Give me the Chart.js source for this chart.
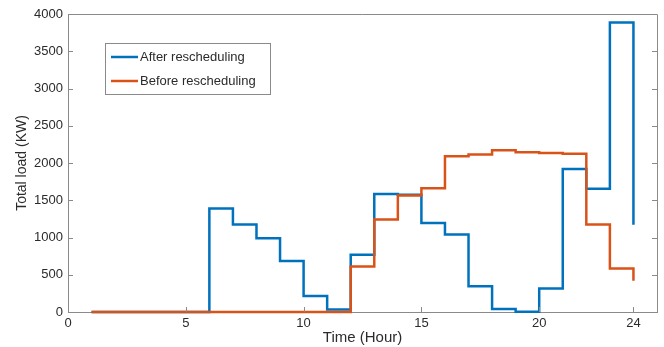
<!DOCTYPE html>
<html>
<head>
<meta charset="utf-8">
<script src="https://cdn.jsdelivr.net/npm/chart.js@4"></script>
<style>
  html, body { margin: 0; padding: 0; background: #fff; }
  #wrap { position: relative; width: 664px; height: 347px; }
</style>
</head>
<body>
<div id="wrap"><canvas id="c" width="664" height="347"></canvas></div>
<script>
// ---- data ----
const hours = [1,2,3,4,5,6,7,8,9,10,11,12,13,14,15,16,17,18,19,20,21,22,23,24];
const afterRescheduling  = [0,0,0,0,0,1390,1175,990,685,215,35,770,1585,1575,1195,1040,345,40,5,315,1920,1655,3885,1170];
const beforeRescheduling = [0,0,0,0,0,0,0,0,0,0,0,610,1240,1565,1660,2090,2115,2170,2145,2135,2125,1175,585,420];
const xTickValues = [0,5,10,15,20,24];
const seriesNames = ['After rescheduling', 'Before rescheduling'];
const xTitle = 'Time (Hour)';
const yTitle = 'Total load (KW)';

const BLUE = '#0072BD';
const ORANGE = '#D95319';
const AXIS = '#8a8a8a';
const TEXT = '#2b2b2b';
const FONT = '"Liberation Sans", Arial, Helvetica, sans-serif';

const toPts = (ys) => hours.map((h, i) => ({ x: h, y: ys[i] }));

const boxPlugin = {
  id: 'boxAndTicks',
  afterDraw(chart) {
    const { ctx, chartArea: a, scales } = chart;
    ctx.save();
    ctx.strokeStyle = AXIS;
    ctx.lineWidth = 1;
    // top and right borders
    ctx.beginPath();
    ctx.moveTo(a.left, a.top + 0.5);
    ctx.lineTo(a.right + 0.5, a.top + 0.5);
    ctx.lineTo(a.right + 0.5, a.bottom);
    ctx.stroke();
    // inward ticks
    const tl = 5;
    ctx.beginPath();
    scales.y.ticks.forEach(t => {
      const y = Math.round(scales.y.getPixelForValue(t.value)) + 0.5;
      ctx.moveTo(a.left, y); ctx.lineTo(a.left + tl, y);
      ctx.moveTo(a.right, y); ctx.lineTo(a.right - tl, y);
    });
    scales.x.ticks.forEach(t => {
      const x = Math.round(scales.x.getPixelForValue(t.value)) + 0.5;
      ctx.moveTo(x, a.bottom); ctx.lineTo(x, a.bottom - tl);
    });
    ctx.stroke();
    ctx.restore();
  }
};

const legendPlugin = {
  id: 'insideLegend',
  afterDraw(chart) {
    const { ctx } = chart;
    const x0 = 105, y0 = 43, w = 165, h = 51;
    ctx.save();
    ctx.fillStyle = '#fff';
    ctx.fillRect(x0, y0, w, h);
    ctx.strokeStyle = '#8a8a8a';
    ctx.lineWidth = 1;
    ctx.strokeRect(x0 + 0.5, y0 + 0.5, w, h);
    const rows = [57, 81];
    const colors = [BLUE, ORANGE];
    ctx.font = '13px ' + FONT;
    ctx.textBaseline = 'middle';
    ctx.textAlign = 'left';
    rows.forEach((ry, i) => {
      ctx.strokeStyle = colors[i];
      ctx.lineWidth = 2.5;
      ctx.beginPath();
      ctx.moveTo(111, ry); ctx.lineTo(138, ry);
      ctx.stroke();
      ctx.fillStyle = TEXT;
      ctx.fillText(seriesNames[i], 140, ry);
    });
    ctx.restore();
  }
};

new Chart(document.getElementById('c'), {
  type: 'line',
  data: {
    datasets: [
      { label: seriesNames[0], data: toPts(afterRescheduling), borderColor: BLUE, borderWidth: 2.5,
        stepped: 'before', pointRadius: 0, fill: false, clip: false, order: 2 },
      { label: seriesNames[1], data: toPts(beforeRescheduling), borderColor: ORANGE, borderWidth: 2.5,
        stepped: 'before', pointRadius: 0, fill: false, clip: false, order: 1 }
    ]
  },
  options: {
    responsive: false,
    animation: false,
    devicePixelRatio: 1,
    layout: { padding: { left: 0, right: 7, top: 14, bottom: 0 } },
    plugins: { legend: { display: false }, tooltip: { enabled: false } },
    scales: {
      x: {
        type: 'linear', min: 0, max: 25,
        afterBuildTicks: (s) => { s.ticks = xTickValues.map(v => ({ value: v })); },
        afterFit: (s) => { s.height = 35; },
        grid: { display: false, drawTicks: false },
        border: { display: true, color: AXIS, width: 1 },
        ticks: { color: TEXT, font: { family: FONT, size: 13 }, padding: 4, maxRotation: 0, autoSkip: false,
                 callback: (v) => String(v) },
        title: { display: true, text: xTitle, color: TEXT, font: { family: FONT, size: 15 }, padding: { top: 0, bottom: 0 } }
      },
      y: {
        type: 'linear', min: 0, max: 4000,
        afterFit: (s) => { s.width = 68; },
        grid: { display: false, drawTicks: false },
        border: { display: true, color: AXIS, width: 1 },
        ticks: { stepSize: 500, color: TEXT, font: { family: FONT, size: 13 }, padding: 5,
                 callback: (v) => String(v) },
        title: { display: true, text: yTitle, color: TEXT, font: { family: FONT, size: 14 }, padding: { top: 14, bottom: 0 } }
      }
    }
  },
  plugins: [boxPlugin, legendPlugin]
});
</script>
</body>
</html>
